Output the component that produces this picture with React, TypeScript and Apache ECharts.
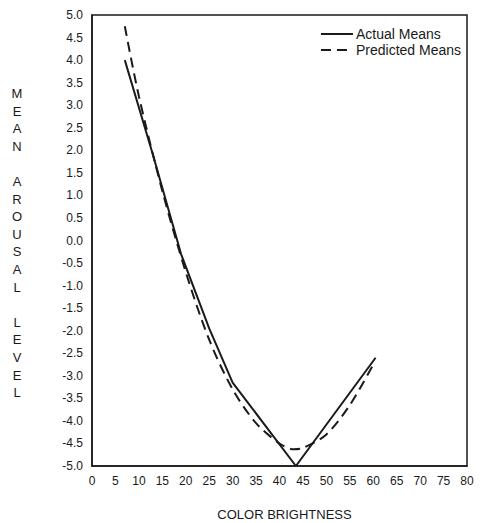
import React, { useEffect, useRef } from "react";
import * as echarts from "echarts";

const actualBrightness = [7, 13, 19, 25, 30, 43.5, 60.5];
const actualMeans = [4.0, 1.9, -0.3, -1.95, -3.15, -5.0, -2.6];

const predictedBrightness = [7, 10, 15, 20, 25, 30, 35, 40, 43, 45, 50, 55, 60];
const predictedMeans = [4.75, 3.2, 1.1, -0.7, -2.2, -3.3, -4.05, -4.5, -4.63, -4.6, -4.3, -3.65, -2.75];

const yAxisTitleLines = ["M", "E", "A", "N", "", "A", "R", "O", "U", "S", "A", "L", "", "L", "E", "V", "E", "L"];
const xAxisTitle = "COLOR BRIGHTNESS";

const FONT = "'Liberation Sans', Arial, Helvetica, sans-serif";
const INK = "#1a1a1a";

export default function App() {
  const ref = useRef<HTMLDivElement>(null);

  useEffect(() => {
    if (!ref.current) return;
    const chart = echarts.init(ref.current, undefined, { renderer: "svg" });
    const actualData = actualBrightness.map((x, i) => [x, actualMeans[i]]);
    const predictedData = predictedBrightness.map((x, i) => [x, predictedMeans[i]]);

    chart.setOption({
      animation: false,
      backgroundColor: "#fff",
      textStyle: { fontFamily: FONT },
      grid: {
        left: 92,
        right: 13,
        top: 15,
        bottom: 57,
        show: true,
        outerBoundsMode: "none",
        containLabel: false,
        borderColor: INK,
        borderWidth: 1.5,
        backgroundColor: "transparent",
      },
      legend: {
        orient: "vertical",
        right: 14,
        top: 22,
        itemWidth: 32,
        itemHeight: 12,
        itemGap: 2,
        itemStyle: { opacity: 0 },
        textStyle: { fontFamily: FONT, fontSize: 14, color: INK, padding: [0, 0, 0, -2] },
        data: ["Actual Means", "Predicted Means"],
      },
      xAxis: {
        type: "value",
        min: 0,
        max: 80,
        interval: 5,
        name: xAxisTitle,
        nameLocation: "middle",
        nameGap: 42,
        nameTextStyle: { fontFamily: FONT, fontSize: 13, color: INK, padding: [0, 0, 0, 10] },
        axisLine: { show: true, onZero: false, lineStyle: { color: INK, width: 1.5 } },
        axisTick: { show: false },
        splitLine: { show: false },
        axisLabel: { fontFamily: FONT, fontSize: 12, color: INK, margin: 9 },
      },
      yAxis: {
        type: "value",
        min: -5,
        max: 5,
        interval: 0.5,
        axisLine: { show: true, onZero: false, lineStyle: { color: INK, width: 1.5 } },
        axisTick: { show: false },
        splitLine: { show: false },
        axisLabel: {
          fontFamily: FONT,
          fontSize: 12,
          color: INK,
          margin: 9,
          formatter: (v: number) => v.toFixed(1),
        },
      },
      graphic: [
        {
          type: "text",
          x: 17,
          y: 243,
          style: {
            text: yAxisTitleLines.join("\n"),
            fontFamily: FONT,
            fontSize: 13,
            lineHeight: 17.6,
            fill: INK,
            align: "center",
            verticalAlign: "middle",
          },
        },
      ],
      series: [
        {
          name: "Actual Means",
          type: "line",
          data: actualData,
          symbol: "none",
          smooth: false,
          lineStyle: { color: INK, width: 2, type: "solid" },
          itemStyle: { color: INK },
        },
        {
          name: "Predicted Means",
          type: "line",
          data: predictedData,
          symbol: "none",
          smooth: 0.3,
          lineStyle: { color: INK, width: 2, type: [10, 6] },
          itemStyle: { color: INK },
        },
      ],
    });
    return () => chart.dispose();
  }, []);

  return <div ref={ref} style={{ width: 480, height: 523, position: "absolute", left: 0, top: 0 }} />;
}
